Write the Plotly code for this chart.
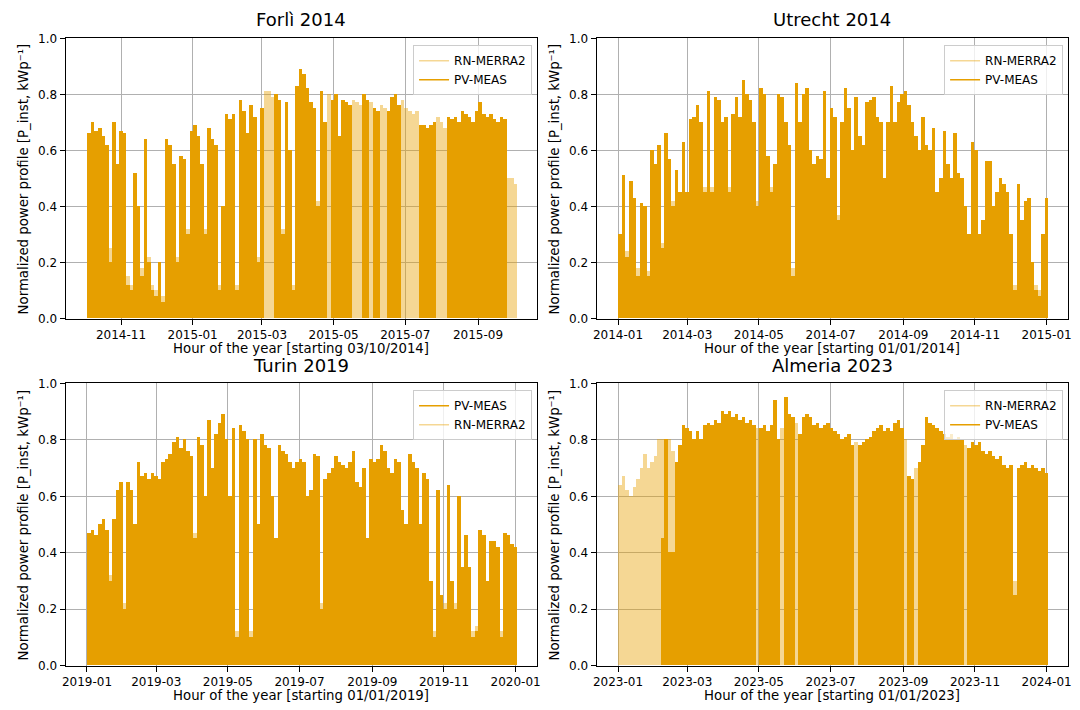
import numpy as np
import pandas as pd
import plotly.graph_objects as go

W, H = 1080, 710
FONT = "DejaVu Sans"
ORANGE = "#E69F00"
LIGHT = "rgba(230,159,0,0.42)"
BIN_DAYS = 3  # each value = peak of a 3-day window

# ---------------- data (3-day peak values) ----------------
titles = ["Forlì 2014", "Utrecht 2014", "Turin 2019", "Almeria 2023"]
starts = ["2014-10-03", "2014-01-01", "2019-01-01", "2023-01-01"]
xlabels = ["Hour of the year [starting 03/10/2014]", "Hour of the year [starting 01/01/2014]",
           "Hour of the year [starting 01/01/2019]", "Hour of the year [starting 01/01/2023]"]
ylabel = "Normalized power profile [P_inst, kWp⁻¹]"

forli_meas = [0.66, 0.70, 0.67, 0.68, 0.65, 0.62, 0.20, 0.70, 0.55, 0.67,
              0.66, 0.12, 0.10, 0.52, 0.40, 0.15, 0.64, 0.20, 0.10, 0.08,
              0.20, 0.06, 0.64, 0.62, 0.55, 0.20, 0.58, 0.57, 0.30, 0.67,
              0.69, 0.65, 0.55, 0.30, 0.68, 0.64, 0.62, 0.10, 0.40, 0.73,
              0.71, 0.73, 0.10, 0.78, 0.74, 0.66, 0.76, 0.72, 0.20, 0.75,
              None, None, None, 0.80, 0.78, 0.30, 0.77, 0.60, 0.10, 0.83,
              0.89, 0.87, 0.82, 0.77, 0.75, 0.40, 0.81, 0.70, None, 0.78,
              0.80, 0.65, 0.78, 0.77, 0.76, None, None, None, 0.80, 0.78,
              None, 0.75, 0.74, None, None, 0.74, 0.79, 0.80, 0.76, None,
              None, None, None, None, 0.69, 0.69, 0.68, 0.69, 0.70, None,
              None, None, 0.72, 0.71, 0.72, 0.70, 0.74, 0.73, 0.72, 0.70,
              0.74, 0.77, 0.73, 0.72, 0.73, 0.71, 0.70, 0.72, 0.71, None,
              None, None]
forli_merra = [0.64, 0.68, 0.66, 0.66, 0.63, 0.60, 0.25, 0.68, 0.55, 0.65,
               0.64, 0.15, 0.12, 0.50, 0.38, 0.18, 0.62, 0.22, 0.12, 0.10,
               0.18, 0.08, 0.62, 0.60, 0.52, 0.22, 0.56, 0.55, 0.32, 0.65,
               0.67, 0.63, 0.53, 0.32, 0.66, 0.62, 0.60, 0.12, 0.38, 0.71,
               0.70, 0.71, 0.12, 0.76, 0.72, 0.65, 0.74, 0.70, 0.22, 0.73,
               0.81, 0.81, 0.79, 0.78, 0.76, 0.32, 0.75, 0.58, 0.12, 0.81,
               0.86, 0.85, 0.80, 0.76, 0.74, 0.42, 0.79, 0.70, 0.80, 0.77,
               0.78, 0.64, 0.77, 0.76, 0.75, 0.78, 0.77, 0.76, 0.78, 0.77,
               0.77, 0.74, 0.73, 0.76, 0.75, 0.73, 0.77, 0.78, 0.75, 0.78,
               0.75, 0.74, 0.73, 0.74, 0.68, 0.68, 0.67, 0.68, 0.69, 0.72,
               0.70, 0.68, 0.71, 0.70, 0.71, 0.69, 0.73, 0.72, 0.71, 0.69,
               0.73, 0.75, 0.72, 0.71, 0.72, 0.70, 0.69, 0.71, 0.70, 0.50,
               0.50, 0.48]

utrecht_meas = [0.30, 0.51, 0.22, 0.49, 0.43, 0.15, 0.41, 0.40, 0.15, 0.60,
                0.55, 0.62, 0.25, 0.66, 0.57, 0.40, 0.53, 0.45, 0.63, 0.45,
                0.71, 0.72, 0.76, 0.70, 0.45, 0.81, 0.45, 0.79, 0.78, 0.70,
                0.72, 0.45, 0.73, 0.79, 0.72, 0.85, 0.80, 0.78, 0.70, 0.40,
                0.82, 0.80, 0.58, 0.45, 0.55, 0.80, 0.79, 0.70, 0.62, 0.15,
                0.84, 0.70, 0.80, 0.82, 0.60, 0.55, 0.58, 0.57, 0.81, 0.50,
                0.75, 0.72, 0.35, 0.70, 0.82, 0.75, 0.60, 0.79, 0.65, 0.62,
                0.77, 0.78, 0.79, 0.72, 0.70, 0.50, 0.70, 0.83, 0.70, 0.77,
                0.80, 0.81, 0.76, 0.70, 0.65, 0.60, 0.72, 0.62, 0.60, 0.68,
                0.45, 0.50, 0.67, 0.55, 0.50, 0.66, 0.52, 0.50, 0.40, 0.30,
                0.63, 0.60, 0.30, 0.35, 0.56, 0.56, 0.40, 0.45, 0.50, 0.48,
                0.45, 0.30, 0.10, 0.48, 0.35, 0.42, 0.43, 0.20, 0.10, 0.08,
                0.30, 0.43]
utrecht_merra = [0.28, 0.48, 0.24, 0.46, 0.40, 0.18, 0.38, 0.37, 0.17, 0.57,
                 0.52, 0.59, 0.27, 0.63, 0.55, 0.42, 0.50, 0.43, 0.60, 0.43,
                 0.68, 0.70, 0.73, 0.68, 0.47, 0.78, 0.47, 0.76, 0.75, 0.68,
                 0.70, 0.47, 0.71, 0.76, 0.70, 0.82, 0.78, 0.76, 0.68, 0.42,
                 0.79, 0.78, 0.56, 0.47, 0.53, 0.77, 0.77, 0.68, 0.60, 0.18,
                 0.81, 0.68, 0.78, 0.80, 0.58, 0.53, 0.56, 0.55, 0.78, 0.48,
                 0.73, 0.70, 0.37, 0.68, 0.79, 0.73, 0.58, 0.76, 0.63, 0.60,
                 0.75, 0.76, 0.77, 0.70, 0.68, 0.48, 0.68, 0.80, 0.68, 0.75,
                 0.78, 0.79, 0.74, 0.68, 0.63, 0.58, 0.70, 0.60, 0.58, 0.66,
                 0.43, 0.48, 0.65, 0.53, 0.48, 0.64, 0.50, 0.48, 0.38, 0.28,
                 0.61, 0.58, 0.28, 0.33, 0.54, 0.54, 0.38, 0.43, 0.48, 0.46,
                 0.43, 0.28, 0.12, 0.46, 0.33, 0.40, 0.41, 0.18, 0.12, 0.10,
                 0.28, 0.41]

turin_meas = [0.47, 0.48, 0.46, 0.50, 0.52, 0.48, 0.30, 0.52, 0.62, 0.65,
              0.20, 0.65, 0.62, 0.50, 0.72, 0.67, 0.68, 0.66, 0.68, 0.67,
              0.66, 0.72, 0.73, 0.75, 0.79, 0.81, 0.77, 0.80, 0.76, 0.74,
              0.45, 0.81, 0.78, 0.60, 0.87, 0.70, 0.82, 0.86, 0.89, 0.80,
              0.60, 0.84, 0.10, 0.85, 0.83, 0.80, 0.10, 0.80, 0.50, 0.82,
              0.78, 0.77, 0.60, 0.45, 0.78, 0.76, 0.75, 0.72, 0.70, 0.72,
              0.73, 0.72, 0.60, 0.62, 0.75, 0.74, 0.20, 0.66, 0.68, 0.70,
              0.74, 0.72, 0.71, 0.70, 0.72, 0.76, 0.65, 0.63, 0.70, 0.45,
              0.73, 0.72, 0.73, 0.78, 0.76, 0.70, 0.68, 0.73, 0.72, 0.55,
              0.50, 0.75, 0.72, 0.70, 0.50, 0.68, 0.66, 0.30, 0.10, 0.62,
              0.25, 0.20, 0.64, 0.30, 0.20, 0.60, 0.35, 0.46, 0.35, 0.10,
              0.12, 0.48, 0.46, 0.30, 0.44, 0.44, 0.42, 0.10, 0.47, 0.46,
              0.43, 0.42]
turin_merra = [0.45, 0.46, 0.44, 0.48, 0.50, 0.46, 0.32, 0.50, 0.60, 0.63,
               0.22, 0.63, 0.60, 0.48, 0.70, 0.65, 0.66, 0.64, 0.66, 0.65,
               0.64, 0.70, 0.71, 0.73, 0.77, 0.79, 0.75, 0.78, 0.74, 0.72,
               0.47, 0.79, 0.76, 0.58, 0.85, 0.68, 0.80, 0.84, 0.87, 0.78,
               0.58, 0.82, 0.12, 0.83, 0.81, 0.78, 0.12, 0.78, 0.48, 0.80,
               0.76, 0.75, 0.58, 0.43, 0.76, 0.74, 0.73, 0.70, 0.68, 0.70,
               0.71, 0.70, 0.58, 0.60, 0.73, 0.72, 0.22, 0.64, 0.66, 0.68,
               0.72, 0.70, 0.69, 0.68, 0.70, 0.74, 0.63, 0.61, 0.68, 0.43,
               0.71, 0.70, 0.71, 0.76, 0.74, 0.68, 0.66, 0.71, 0.70, 0.53,
               0.48, 0.73, 0.70, 0.68, 0.48, 0.66, 0.64, 0.28, 0.12, 0.60,
               0.23, 0.22, 0.62, 0.28, 0.22, 0.58, 0.33, 0.44, 0.33, 0.12,
               0.14, 0.46, 0.44, 0.28, 0.42, 0.42, 0.40, 0.12, 0.45, 0.44,
               0.41, 0.40]

almeria_meas = [None, None, None, None, None, None, None, None, None, None,
                None, None, 0.45, 0.80, 0.40, 0.40, 0.72, 0.78, 0.85, 0.84,
                0.83, 0.80, 0.83, 0.80, 0.85, 0.86, 0.85, 0.87, 0.86, 0.90,
                0.89, 0.90, 0.88, 0.89, 0.87, 0.88, 0.86, 0.87, 0.85, None,
                0.84, 0.85, 0.83, 0.85, 0.94, 0.80, None, 0.95, 0.89, 0.88,
                None, 0.82, 0.88, 0.89, 0.88, 0.85, 0.86, 0.84, 0.85, 0.86,
                0.84, 0.83, 0.82, 0.80, 0.81, 0.82, 0.78, None, 0.78, 0.79,
                0.80, 0.81, 0.83, 0.84, 0.85, 0.83, 0.84, 0.83, 0.86, 0.87,
                0.84, None, 0.67, 0.66, None, 0.72, 0.78, 0.88, 0.86, 0.85,
                0.84, 0.83, 0.82, 0.81, 0.82, 0.80, 0.81, 0.80, None, 0.77,
                0.79, 0.78, 0.79, 0.76, 0.75, 0.76, 0.74, 0.73, 0.74, 0.71,
                0.70, 0.71, 0.25, 0.70, 0.71, 0.72, 0.70, 0.71, 0.70, 0.69,
                0.70, 0.68]
almeria_merra = [0.64, 0.67, 0.62, 0.60, 0.63, 0.66, 0.70, 0.75, 0.70, 0.72,
                 0.74, 0.80, 0.80, 0.79, 0.80, 0.76, 0.70, 0.76, 0.83, 0.82,
                 0.81, 0.78, 0.81, 0.78, 0.83, 0.84, 0.83, 0.85, 0.84, 0.88,
                 0.87, 0.88, 0.86, 0.87, 0.85, 0.86, 0.84, 0.85, 0.83, 0.84,
                 0.82, 0.83, 0.81, 0.83, 0.90, 0.78, 0.84, 0.91, 0.87, 0.86,
                 0.86, 0.80, 0.86, 0.87, 0.86, 0.83, 0.84, 0.82, 0.83, 0.84,
                 0.82, 0.81, 0.80, 0.78, 0.79, 0.80, 0.76, 0.79, 0.76, 0.77,
                 0.78, 0.79, 0.81, 0.82, 0.83, 0.81, 0.82, 0.81, 0.84, 0.85,
                 0.82, 0.80, 0.65, 0.64, 0.70, 0.70, 0.76, 0.86, 0.84, 0.83,
                 0.82, 0.81, 0.80, 0.79, 0.80, 0.78, 0.79, 0.78, 0.78, 0.75,
                 0.77, 0.76, 0.77, 0.74, 0.73, 0.74, 0.72, 0.71, 0.72, 0.69,
                 0.68, 0.69, 0.30, 0.68, 0.69, 0.70, 0.68, 0.69, 0.68, 0.67,
                 0.68, 0.66]

meas = [forli_meas, utrecht_meas, turin_meas, almeria_meas]
merra = [forli_merra, utrecht_merra, turin_merra, almeria_merra]
meas_first = [False, False, True, False]   # legend / draw order

# ---------------- layout geometry (pixels) ----------------
col_x = [(62, 537), (597, 1072)]
row_y = [(32, 318), (384, 672)]


def px(x):
    return x / W


def py(y):
    return 1 - y / H


fig = go.Figure()
annotations = []
DAY_MS = 86400000

for k in range(4):
    r, c = divmod(k, 2)
    sfx = "" if k == 0 else str(k + 1)
    xa, ya, lg = "x" + sfx, "y" + sfx, "legend" + sfx
    start = pd.Timestamp(starts[k])
    n = len(meas[k])
    centers = start + pd.to_timedelta(np.arange(n) * BIN_DAYS + BIN_DAYS / 2, unit="D")

    def bar(vals, color):
        return go.Bar(x=centers, y=vals, width=BIN_DAYS * DAY_MS, marker=dict(color=color, line=dict(width=0)),
                      xaxis=xa, yaxis=ya, showlegend=False, hoverinfo="skip")

    def leg(name, color):
        return go.Scatter(x=[None], y=[None], mode="lines", name=name, line=dict(color=color, width=1.5),
                          xaxis=xa, yaxis=ya, legend=lg, showlegend=True)

    if meas_first[k]:
        fig.add_trace(bar(meas[k], ORANGE))
        fig.add_trace(bar(merra[k], LIGHT))
        fig.add_trace(leg("PV-MEAS", ORANGE))
        fig.add_trace(leg("RN-MERRA2", LIGHT))
    else:
        fig.add_trace(bar(merra[k], LIGHT))
        fig.add_trace(bar(meas[k], ORANGE))
        fig.add_trace(leg("RN-MERRA2", LIGHT))
        fig.add_trace(leg("PV-MEAS", ORANGE))

    span = pd.Timedelta(days=365)
    xr = [start - 0.05 * span, start + span + 0.05 * span]
    x0, x1 = col_x[c]
    y0, y1 = row_y[r]
    axis_common = dict(showline=True, linecolor="black", linewidth=1, mirror=True,
                       ticks="outside", ticklen=5, tickcolor="black", tickwidth=1,
                       showgrid=True, gridcolor="#b0b0b0", gridwidth=0.8, zeroline=False,
                       tickfont=dict(family=FONT, size=12, color="black"))
    fig.update_layout(**{
        ("xaxis" + sfx): dict(type="date", domain=[px(x0), px(x1)], anchor=ya, range=xr,
                              tick0="2014-01-01", dtick="M2", tickformat="%Y-%m", **axis_common),
        ("yaxis" + sfx): dict(domain=[py(y1), py(y0)], anchor=xa, range=[0, 1], dtick=0.2,
                              tickformat=".1f", **axis_common),
        lg: dict(x=px(x1 - 5), y=py(y0 + 7), xanchor="right", yanchor="top",
                 bgcolor="rgba(255,255,255,0.8)", bordercolor="#cccccc", borderwidth=1,
                 font=dict(family=FONT, size=12, color="black"), itemwidth=30, tracegroupgap=0),
    })
    cx = (x0 + x1) / 2
    annotations.append(dict(text=titles[k], x=px(cx), y=py(y0 - 6), xref="paper", yref="paper",
                            xanchor="center", yanchor="bottom", showarrow=False,
                            font=dict(family=FONT, size=18, color="black")))
    annotations.append(dict(text=xlabels[k], x=px(cx), y=py(y1 + 30), xref="paper", yref="paper",
                            xanchor="center", yanchor="middle", showarrow=False,
                            font=dict(family=FONT, size=13.3, color="black")))
    annotations.append(dict(text=ylabel, x=px(x0 - 42), y=py((y0 + y1) / 2), xref="paper", yref="paper",
                            xanchor="center", yanchor="middle", textangle=-90, showarrow=False,
                            font=dict(family=FONT, size=13.3, color="black")))

fig.update_layout(width=W, height=H, margin=dict(l=0, r=0, t=0, b=0),
                  paper_bgcolor="white", plot_bgcolor="white", barmode="overlay", bargap=0,
                  annotations=annotations, font=dict(family=FONT, color="black"))

fig.write_html("out.html")
